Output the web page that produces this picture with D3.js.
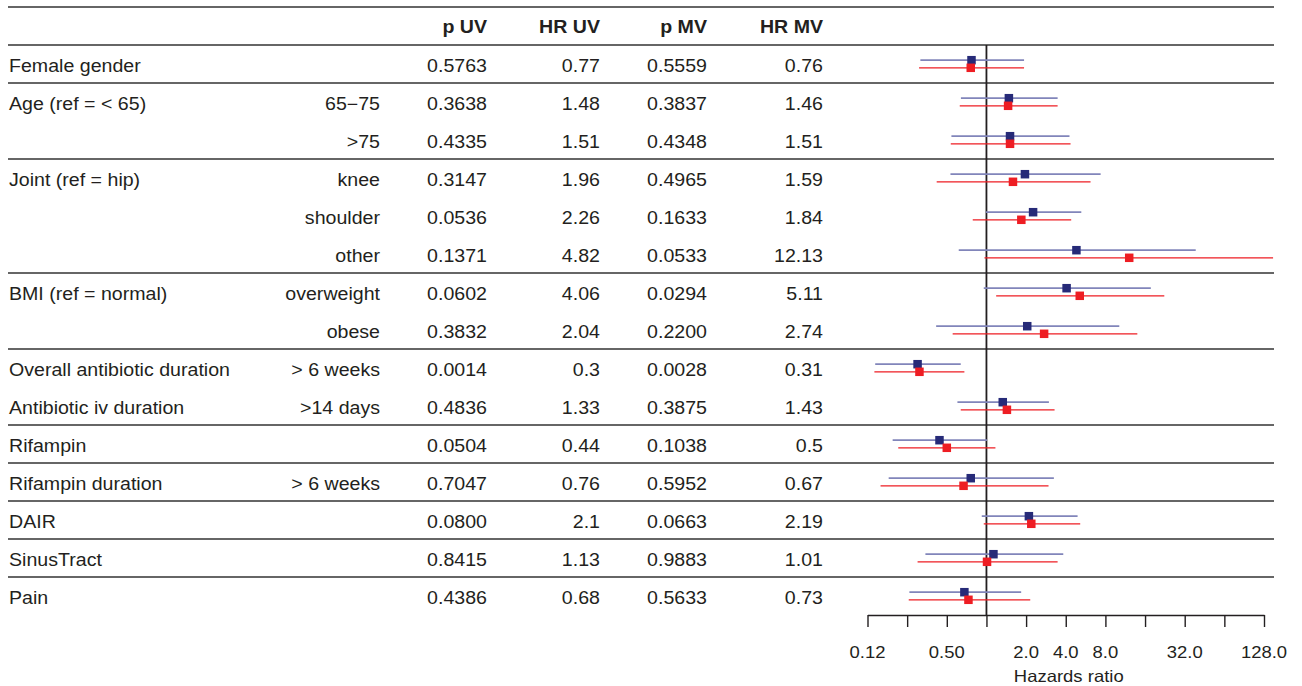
<!DOCTYPE html>
<html>
<head>
<meta charset="utf-8">
<script src="https://cdn.jsdelivr.net/npm/d3@7"></script>
<style>
  body { margin: 0; background: white; }
  text { font-family: "Liberation Sans", Arial, Helvetica, sans-serif; fill: #231f20; }
</style>
</head>
<body>
<script>
var width = 1302
var height = 686

// table data
var labels = ["Female gender", "Age (ref = < 65)", "", "Joint (ref = hip)", "", "",
  "BMI (ref = normal)", "", "Overall antibiotic duration", "Antibiotic iv duration",
  "Rifampin", "Rifampin duration", "DAIR", "SinusTract", "Pain"]
var subLabels = ["", "65\u221275", ">75", "knee", "shoulder", "other", "overweight", "obese",
  "> 6 weeks", ">14 days", "", "> 6 weeks", "", "", ""]
var pUV = ["0.5763", "0.3638", "0.4335", "0.3147", "0.0536", "0.1371", "0.0602", "0.3832",
  "0.0014", "0.4836", "0.0504", "0.7047", "0.0800", "0.8415", "0.4386"]
var hrUV = ["0.77", "1.48", "1.51", "1.96", "2.26", "4.82", "4.06", "2.04",
  "0.3", "1.33", "0.44", "0.76", "2.1", "1.13", "0.68"]
var pMV = ["0.5559", "0.3837", "0.4348", "0.4965", "0.1633", "0.0533", "0.0294", "0.2200",
  "0.0028", "0.3875", "0.1038", "0.5952", "0.0663", "0.9883", "0.5633"]
var hrMV = ["0.76", "1.46", "1.51", "1.59", "1.84", "12.13", "5.11", "2.74",
  "0.31", "1.43", "0.5", "0.67", "2.19", "1.01", "0.73"]

// confidence intervals
var loUV = [0.315, 0.64, 0.542, 0.533, 0.99, 0.616, 0.954, 0.415, 0.143, 0.602, 0.194, 0.181, 0.921, 0.344, 0.26]
var hiUV = [1.93, 3.47, 4.27, 7.36, 5.25, 38.8, 17.7, 10.2, 0.638, 2.98, 1.01, 3.25, 4.92, 3.83, 1.835]
var loMV = [0.308, 0.627, 0.536, 0.419, 0.787, 0.966, 1.185, 0.554, 0.141, 0.638, 0.214, 0.157, 0.954, 0.30, 0.257]
var hiMV = [1.93, 3.47, 4.35, 6.17, 4.40, 150, 22.4, 13.98, 0.68, 3.29, 1.17, 2.96, 5.15, 3.47, 2.15]

// a rule is drawn below these rows
var ruleAfter = [0, 2, 5, 7, 9, 10, 11, 12, 13]

var headers = ["p UV", "HR UV", "p MV", "HR MV"]
var columns = [pUV, hrUV, pMV, hrMV]
var colRight = [487, 600, 707, 823]

var tickValues = [0.125, 0.25, 0.5, 1, 2, 4, 8, 16, 32, 64, 128]
var tickLabels = ["0.12", "", "0.50", "", "2.0", "4.0", "8.0", "", "32.0", "", "128.0"]

var blueLine = "#8185ba"
var blueBox = "#262a78"
var red = "#ee1d23"
var ruleColor = "#333333"
var sx = 1.12

var svg = d3.select("body")
  .append("svg")
  .attr("width", width)
  .attr("height", height)

var x = d3.scaleLog().base(2).domain([0.125, 128]).range([867.5, 1264])
var y = d3.scaleLinear().domain([0, labels.length - 1]).range([64, 64 + 38 * (labels.length - 1)])

function addText(g, tx, ty, str, anchor, size, weight) {
  g.append("text")
    .attr("transform", "translate(" + tx + "," + ty + ") scale(" + sx + ",1)")
    .attr("text-anchor", anchor)
    .style("font-size", size + "px")
    .style("font-weight", weight || "normal")
    .text(str)
}

// rules
var rules = [7, 45].concat(ruleAfter.map(function (i) { return y(i) + 19 }))
svg.selectAll(".rule")
  .data(rules)
  .enter()
  .append("line")
  .attr("class", "rule")
  .attr("x1", 8).attr("x2", 1274)
  .attr("y1", function (d) { return d }).attr("y2", function (d) { return d })
  .attr("stroke", ruleColor)
  .attr("stroke-width", 1.4)

// header
var head = svg.append("g")
headers.forEach(function (h, j) {
  addText(head, colRight[j], 33, h, "end", 17.5, "bold")
})

// table body
var body = svg.append("g")
labels.forEach(function (lab, i) {
  var ty = y(i) + 7.5
  if (lab) addText(body, 9, ty, lab, "start", 17.5)
  if (subLabels[i]) addText(body, 380, ty, subLabels[i], "end", 17.5)
  columns.forEach(function (col, j) {
    addText(body, colRight[j], ty, col[i], "end", 17.5)
  })
})

// forest plot
svg.append("clipPath").attr("id", "plotclip")
  .append("rect").attr("x", 845).attr("y", 40).attr("width", 429).attr("height", 580)

var plot = svg.append("g").attr("clip-path", "url(#plotclip)")

var rows = d3.range(labels.length)

plot.append("line")
  .attr("x1", x(1)).attr("x2", x(1))
  .attr("y1", 45).attr("y2", 615)
  .attr("stroke", "#231f20")
  .attr("stroke-width", 1.8)

plot.selectAll(".ciuv")
  .data(rows)
  .enter()
  .append("line")
  .attr("x1", function (i) { return x(loUV[i]) })
  .attr("x2", function (i) { return x(hiUV[i]) })
  .attr("y1", function (i) { return y(i) - 3.8 })
  .attr("y2", function (i) { return y(i) - 3.8 })
  .attr("stroke", blueLine)
  .attr("stroke-width", 1.8)

plot.selectAll(".cimv")
  .data(rows)
  .enter()
  .append("line")
  .attr("x1", function (i) { return x(loMV[i]) })
  .attr("x2", function (i) { return x(hiMV[i]) })
  .attr("y1", function (i) { return y(i) + 3.8 })
  .attr("y2", function (i) { return y(i) + 3.8 })
  .attr("stroke", red)
  .attr("stroke-width", 1.3)

var box = 8.5
plot.selectAll(".ptuv")
  .data(rows)
  .enter()
  .append("rect")
  .attr("x", function (i) { return x(+hrUV[i]) - box / 2 })
  .attr("y", function (i) { return y(i) - 3.8 - box / 2 })
  .attr("width", box).attr("height", box)
  .attr("fill", blueBox)

plot.selectAll(".ptmv")
  .data(rows)
  .enter()
  .append("rect")
  .attr("x", function (i) { return x(+hrMV[i]) - box / 2 })
  .attr("y", function (i) { return y(i) + 3.8 - box / 2 })
  .attr("width", box).attr("height", box)
  .attr("fill", red)

// axis
var axis = svg.append("g")
  .attr("transform", "translate(0,615)")
  .call(d3.axisBottom(x)
    .tickValues(tickValues)
    .tickFormat(function (d, i) { return "" })
    .tickSize(12)
    .tickSizeOuter(0))

axis.select(".domain").attr("stroke", "#231f20").attr("stroke-width", 1.4)
axis.selectAll(".tick line").attr("stroke", "#231f20").attr("stroke-width", 1.4)

var tl = svg.append("g")
tickValues.forEach(function (v, i) {
  if (tickLabels[i]) addText(tl, x(v), 658, tickLabels[i], "middle", 16.5)
})
addText(tl, (x.range()[0] + x.range()[1]) / 2 + 3, 682, "Hazards ratio", "middle", 16.5)
</script>
</body>
</html>
